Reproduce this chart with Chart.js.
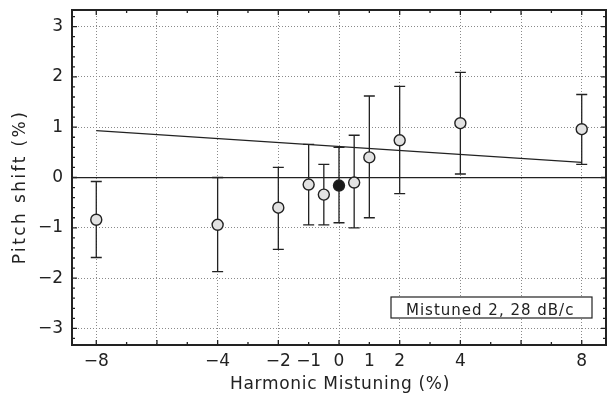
<!DOCTYPE html>
<html>
<head>
<meta charset="utf-8">
<script src="https://cdn.jsdelivr.net/npm/chart.js@4"></script>
<style>
  html, body { margin: 0; padding: 0; background: #fff; }
</style>
</head>
<body>
<canvas id="chart" width="607" height="394"></canvas>
<script>
// data
const mistuning = [-8, -4, -2, -1, -0.5, 0, 0.5, 1, 2, 4, 8];
const pitchShift = [-0.84, -0.94, -0.6, -0.14, -0.34, -0.16, -0.1, 0.4, 0.74, 1.08, 0.96];
const errHigh = [0.76, 0.94, 0.8, 0.8, 0.6, 0.76, 0.94, 1.22, 1.07, 1.01, 0.69];
const errLow = [0.75, 0.93, 0.83, 0.8, 0.6, 0.74, 0.9, 1.2, 1.06, 1.01, 0.7];
const fitX = [-8, 8];
const fitY = [0.93, 0.3];
const xLabels = [-8, -4, -2, -1, 0, 1, 2, 4, 8];
const yLabels = [-3, -2, -1, 0, 1, 2, 3];
const legendText = 'Mistuned 2, 28 dB/c';

const ink = '#222';
const font = '"DejaVu Sans", sans-serif';

function minus(v) {
  return v < 0 ? '\u2212' + Math.abs(v) : String(v);
}

// error bars, frame, inward tick marks, box label and axis titles
const extras = {
  id: 'extras',
  beforeDatasetsDraw(chart) {
    const ctx = chart.ctx;
    const x = chart.scales.x, y = chart.scales.y;
    ctx.save();
    ctx.strokeStyle = ink;
    ctx.lineWidth = 1.3;
    for (let i = 0; i < mistuning.length; i++) {
      const px = x.getPixelForValue(mistuning[i]);
      const top = y.getPixelForValue(pitchShift[i] + errHigh[i]);
      const bot = y.getPixelForValue(pitchShift[i] - errLow[i]);
      ctx.beginPath();
      ctx.moveTo(px, top); ctx.lineTo(px, bot);
      ctx.moveTo(px - 5.5, top); ctx.lineTo(px + 5.5, top);
      ctx.moveTo(px - 5.5, bot); ctx.lineTo(px + 5.5, bot);
      ctx.stroke();
    }
    ctx.restore();
  },
  afterDraw(chart) {
    const ctx = chart.ctx;
    const a = chart.chartArea;
    const x = chart.scales.x, y = chart.scales.y;
    ctx.save();
    ctx.strokeStyle = ink;

    // tick marks pointing inwards
    ctx.lineWidth = 1.3;
    ctx.beginPath();
    x.ticks.forEach(t => {
      const px = x.getPixelForValue(t.value);
      const len = t.value % 2 === 0 ? 5 : 3;
      ctx.moveTo(px, a.bottom); ctx.lineTo(px, a.bottom - len);
      ctx.moveTo(px, a.top); ctx.lineTo(px, a.top + len);
    });
    y.ticks.forEach(t => {
      const py = y.getPixelForValue(t.value);
      const len = Number.isInteger(t.value) ? 5 : 3;
      ctx.moveTo(a.left, py); ctx.lineTo(a.left + len, py);
      ctx.moveTo(a.right, py); ctx.lineTo(a.right - len, py);
    });
    ctx.stroke();

    // frame
    ctx.lineWidth = 2;
    ctx.strokeRect(a.left, a.top, a.right - a.left, a.bottom - a.top);

    // label box
    ctx.lineWidth = 1.2;
    ctx.fillStyle = '#fff';
    ctx.fillRect(391, 297, 201, 21);
    ctx.strokeRect(391, 297, 201, 21);
    ctx.fillStyle = ink;
    ctx.font = '15px ' + font;
    ctx.letterSpacing = '1px';
    ctx.textAlign = 'left';
    ctx.textBaseline = 'alphabetic';
    ctx.fillText(legendText, 406, 315);

    // axis titles
    ctx.font = '17px ' + font;
    ctx.textAlign = 'center';
    ctx.textBaseline = 'middle';
    ctx.letterSpacing = '0.7px';
    ctx.fillText('Harmonic Mistuning (%)', 340, 385);
    ctx.translate(21, 187);
    ctx.rotate(-Math.PI / 2);
    ctx.letterSpacing = '2.4px';
    ctx.fillText('Pitch shift (%)', 0, 0);
    ctx.restore();
  }
};

new Chart(document.getElementById('chart'), {
  type: 'scatter',
  data: {
    datasets: [{
      label: 'pitch shift',
      data: mistuning.map((m, i) => ({ x: m, y: pitchShift[i] })),
      pointRadius: 5.5,
      pointHoverRadius: 5.5,
      pointBorderWidth: 1.4,
      pointBorderColor: ink,
      pointBackgroundColor: mistuning.map(m => m === 0 ? '#1a1a1a' : '#e2e2e2'),
      showLine: false
    }, {
      type: 'line',
      label: 'fit',
      data: fitX.map((fx, i) => ({ x: fx, y: fitY[i] })),
      borderColor: ink,
      borderWidth: 1.3,
      pointRadius: 0,
      fill: false
    }]
  },
  options: {
    responsive: false,
    animation: false,
    events: [],
    layout: { autoPadding: false, padding: { top: 10, right: 1, left: 0, bottom: 0 } },
    plugins: { legend: { display: false }, tooltip: { enabled: false } },
    scales: {
      x: {
        type: 'linear',
        min: -8.8,
        max: 8.8,
        afterBuildTicks: s => {
          const t = [];
          for (let v = -8; v <= 8; v++) t.push({ value: v });
          s.ticks = t;
        },
        afterFit: s => {
          s.height = 49;
          s.paddingLeft = 0;
          s.paddingRight = 0;
        },
        ticks: {
          autoSkip: false,
          maxRotation: 0,
          padding: 6,
          color: ink,
          font: { family: font, size: 17 },
          callback: v => xLabels.includes(v) ? minus(v) : ''
        },
        grid: {
          drawTicks: false,
          tickLength: 0,
          lineWidth: 1,
          color: c => (c.tick && c.tick.value % 2 === 0) ? '#8a8a8a' : 'rgba(0,0,0,0)'
        },
        border: { display: false, dash: [1, 2] }
      },
      y: {
        type: 'linear',
        min: -3.33,
        max: 3.33,
        afterBuildTicks: s => {
          const t = [];
          for (let k = -16; k <= 16; k++) t.push({ value: Math.round(k * 2) / 10 });
          s.ticks = t;
        },
        afterFit: s => {
          s.width = 72;
          s.paddingTop = 0;
          s.paddingBottom = 0;
        },
        ticks: {
          autoSkip: false,
          padding: 9,
          color: ink,
          font: { family: font, size: 17 },
          callback: v => yLabels.includes(v) ? minus(v) : ''
        },
        grid: {
          drawTicks: false,
          tickLength: 0,
          lineWidth: c => (c.tick && c.tick.value === 0) ? 1.3 : 1,
          color: c => {
            if (!c.tick || !Number.isInteger(c.tick.value)) return 'rgba(0,0,0,0)';
            return c.tick.value === 0 ? ink : '#8a8a8a';
          }
        },
        border: {
          display: false,
          dash: c => (c.tick && c.tick.value === 0) ? [] : [1, 2]
        }
      }
    }
  },
  plugins: [extras]
});
</script>
</body>
</html>
